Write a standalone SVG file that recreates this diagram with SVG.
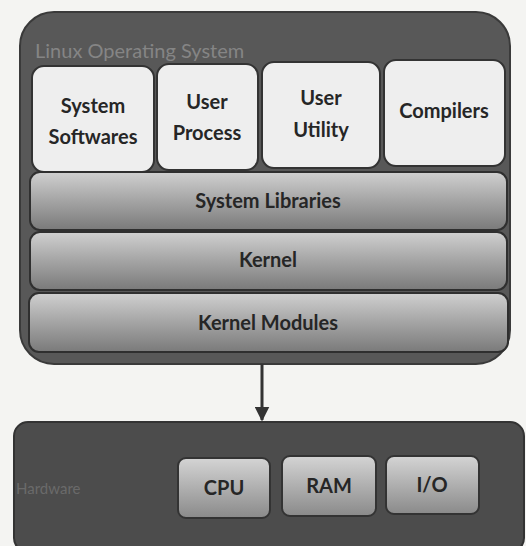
<svg xmlns="http://www.w3.org/2000/svg" width="526" height="546" viewBox="0 0 526 546">
<defs>
<linearGradient id="band" x1="0" y1="0" x2="0" y2="1">
<stop offset="0" stop-color="#d0d0d0"/><stop offset="0.5" stop-color="#a4a4a4"/><stop offset="1" stop-color="#7a7a7a"/>
</linearGradient>
<linearGradient id="hw" x1="0" y1="0" x2="0" y2="1">
<stop offset="0" stop-color="#d4d4d4"/><stop offset="1" stop-color="#8a8a8a"/>
</linearGradient>
<marker id="arr" viewBox="0 0 10 10" refX="9" refY="5" markerWidth="5" markerHeight="5" orient="auto">
<path d="M0,0 L10,5 L0,10 z" fill="#333"/>
</marker>
<style>
.lbl{font-family:Lato,"Open Sans",sans-serif;font-weight:bold;font-size:20px;fill:#262626;text-anchor:middle}
.app{fill:#eeeeee;stroke:#333;stroke-width:2}
.band{fill:url(#band);stroke:#2f2f2f;stroke-width:2}
.hwb{fill:url(#hw);stroke:#333;stroke-width:2}
</style>
</defs>
<rect width="526" height="546" fill="#f4f4f2"/>
<g id="linux-os">
<rect x="20" y="12" width="490" height="352" rx="34" fill="#585858" stroke="#3a3a3a" stroke-width="2"/>
<text x="35" y="58" font-family="Lato, sans-serif" font-size="20" fill="#858585">Linux Operating System</text>
</g>
<g id="system-softwares">
<rect class="app" x="32" y="66" width="122" height="106" rx="12"/>
<text class="lbl" x="93" y="113">System</text>
<text class="lbl" x="93" y="144">Softwares</text>
</g>
<g id="user-process">
<rect class="app" x="157" y="64" width="101" height="106" rx="12"/>
<text class="lbl" x="207" y="109">User</text>
<text class="lbl" x="207" y="140">Process</text>
</g>
<g id="user-utility">
<rect class="app" x="262" y="62" width="118" height="106" rx="12"/>
<text class="lbl" x="321" y="105">User</text>
<text class="lbl" x="321" y="137">Utility</text>
</g>
<g id="compilers">
<rect class="app" x="384" y="60" width="121" height="106" rx="12"/>
<text class="lbl" x="444" y="118">Compilers</text>
</g>
<g id="system-libraries">
<rect class="band" x="30" y="172" width="477" height="58" rx="10"/>
<text class="lbl" x="268" y="208">System Libraries</text>
</g>
<g id="kernel">
<rect class="band" x="30" y="232" width="477" height="58" rx="10"/>
<text class="lbl" x="268" y="267">Kernel</text>
</g>
<g id="kernel-modules">
<rect class="band" x="29" y="293" width="479" height="59" rx="10"/>
<text class="lbl" x="268" y="330">Kernel Modules</text>
</g>
<g id="connectors">
<line x1="262" y1="364" x2="262" y2="420" stroke="#333" stroke-width="3" marker-end="url(#arr)"/>
</g>
<g id="hardware">
<rect x="14" y="422" width="510" height="130" rx="14" fill="#4c4c4c" stroke="#333" stroke-width="2"/>
<text x="16" y="494" font-family="Lato, sans-serif" font-size="15" fill="#6a6a6a">Hardware</text>
</g>
<g id="cpu">
<rect class="hwb" x="178" y="458" width="92" height="60" rx="8"/>
<text class="lbl" x="224" y="495">CPU</text>
</g>
<g id="ram">
<rect class="hwb" x="282" y="456" width="94" height="60" rx="8"/>
<text class="lbl" x="329" y="493">RAM</text>
</g>
<g id="io">
<rect class="hwb" x="386" y="456" width="93" height="58" rx="8"/>
<text class="lbl" x="432" y="492">I/O</text>
</g>
</svg>
